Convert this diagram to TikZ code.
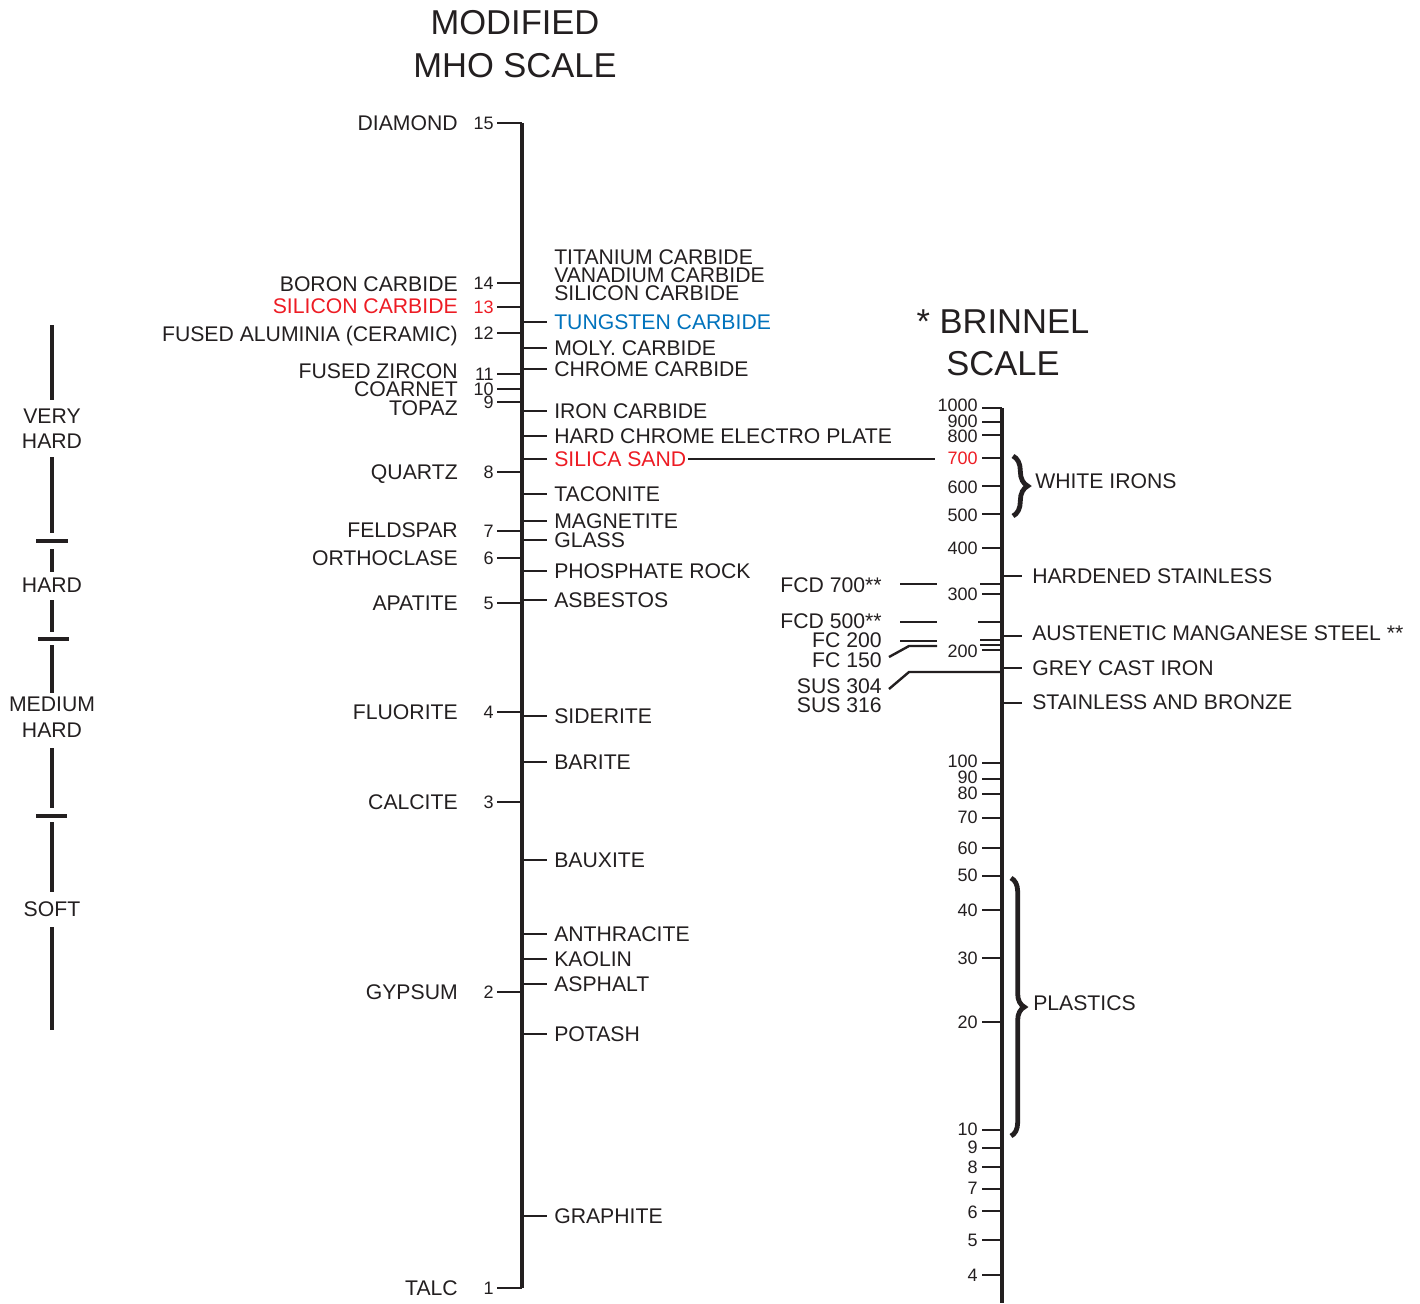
\documentclass[tikz,border=0pt]{standalone}
\usepackage{fontspec}
\setmainfont{Liberation Sans}
\usetikzlibrary{decorations.pathreplacing}
\definecolor{ink}{RGB}{35,31,32}
\definecolor{sred}{RGB}{237,28,36}
\definecolor{sblue}{RGB}{0,114,188}
\begin{document}
\begin{tikzpicture}[x=0.75pt,y=-0.75pt,
  lbl/.style={font=\fontsize{15.9}{18}\selectfont, inner sep=0pt, text height=11.4pt, text depth=0pt, text=ink},
  num/.style={font=\fontsize{13.5}{15}\selectfont, inner sep=0pt, text height=9.7pt, text depth=0pt, text=ink},
  ttl/.style={font=\fontsize{25.9}{28}\selectfont, inner sep=0pt, text height=18.6pt, text depth=0pt, text=ink},
  axis/.style={draw=ink, line width=2.3pt},
  tick/.style={draw=ink, line width=2.1pt},
  conn/.style={draw=ink, line width=1.8pt},
  bar/.style={draw=ink, line width=2.4pt},
  bigbrace/.style={draw=ink, line width=3.6pt, decorate, decoration={brace, amplitude=#1}}
]
\useasboundingbox (0,0) rectangle (1420,1303);

% ---------- titles ----------
\node[ttl] (t1) at (515,22) {MODIFIED};
\node[ttl] (t2) at (515,65) {MHO SCALE};
\node[ttl] (t3) at (1003,321) {* BRINNEL};
\node[ttl] (t4) at (1003,363) {SCALE};

% ---------- MHO axis ----------
\coordinate (mtop) at (522,123);
\coordinate (mbot) at (522,1288);
\draw[axis] (mtop) -- (mbot);

\foreach \y/\n/\c [count=\i] in {123/15/ink, 283/14/ink, 307/13/sred, 333/12/ink, 374/11/ink, 389/10/ink, 402/9/ink, 472/8/ink, 531/7/ink, 558/6/ink, 603/5/ink, 712/4/ink, 802/3/ink, 992/2/ink, 1288/1/ink}{
  \node[num, anchor=east, text=\c] (mn\i) at (494,\y) {\n};
  \draw[tick] (497,\y) -- (522,\y);
}

\foreach \y/\t/\c [count=\i] in {123/DIAMOND/ink, 284/BORON CARBIDE/ink, 306/SILICON CARBIDE/sred, 334/FUSED ALUMINIA (CERAMIC)/ink, 371/FUSED ZIRCON/ink, 389/COARNET/ink, 408/TOPAZ/ink, 472/QUARTZ/ink, 530/FELDSPAR/ink, 558/ORTHOCLASE/ink, 603/APATITE/ink, 712/FLUORITE/ink, 802/CALCITE/ink, 992/GYPSUM/ink, 1288/TALC/ink}{
  \node[lbl, anchor=east, text=\c] (ml\i) at (458,\y) {\t};
}

\foreach \y/\t/\c [count=\i] in {322/TUNGSTEN CARBIDE/sblue, 348/MOLY. CARBIDE/ink, 369/CHROME CARBIDE/ink, 411/IRON CARBIDE/ink, 436/HARD CHROME ELECTRO PLATE/ink, 459/SILICA SAND/sred, 494/TACONITE/ink, 521/MAGNETITE/ink, 540/GLASS/ink, 571/PHOSPHATE ROCK/ink, 600/ASBESTOS/ink, 716/SIDERITE/ink, 762/BARITE/ink, 860/BAUXITE/ink, 934/ANTHRACITE/ink, 959/KAOLIN/ink, 984/ASPHALT/ink, 1034/POTASH/ink, 1216/GRAPHITE/ink}{
  \node[lbl, anchor=west, text=\c] (mr\i) at (554,\y) {\t};
  \draw[tick] (522,\y) -- (547,\y);
}

\node[lbl, anchor=west] (tc1) at (554,257) {TITANIUM CARBIDE};
\node[lbl, anchor=west] (tc2) at (554,275) {VANADIUM CARBIDE};
\node[lbl, anchor=west] (tc3) at (554,293) {SILICON CARBIDE};

% ---------- Brinnel axis ----------
\coordinate (btop) at (1002,408);
\coordinate (bbot) at (1002,1303);
\draw[axis] (btop) -- (bbot);

\foreach \ly/\ty/\n/\c [count=\i] in {405/408/1000/ink, 421/422/900/ink, 436/435/800/ink, 458/458/700/sred, 487/486/600/ink, 515/514/500/ink, 548/548/400/ink, 594/594/300/ink, 651/650/200/ink, 761/763/100/ink, 777/779/90/ink, 793/794/80/ink, 817/818/70/ink, 848/848/60/ink, 875/876/50/ink, 910/910/40/ink, 958/958/30/ink, 1022/1022/20/ink, 1129/1130/10/ink, 1147/1148/9/ink, 1167/1167/8/ink, 1188/1189/7/ink, 1212/1211/6/ink, 1240/1240/5/ink, 1275/1275/4/ink}{
  \node[num, anchor=east, text=\c] (bn\i) at (978,\ly) {\n};
  \draw[tick] (982,\ty) -- (1002,\ty);
}
% unlabelled ticks
\foreach \y/\x in {584/980, 622/978, 640/980, 645/980}{
  \draw[tick] (\x,\y) -- (1002,\y);
}

% right side ticks and labels
\foreach \ty/\ly/\t [count=\i] in {576/576/HARDENED STAINLESS, 636/633/AUSTENETIC MANGANESE STEEL **, 668/668/GREY CAST IRON, 703/702/STAINLESS AND BRONZE}{
  \draw[tick] (1002,\ty) -- (1022,\ty);
  \node[lbl, anchor=west] (br\i) at (1032,\ly) {\t};
}

% FCD / FC / SUS group
\node[lbl, anchor=east] (f1) at (882,585) {FCD 700**};
\node[lbl, anchor=east] (f2) at (882,621) {FCD 500**};
\node[lbl, anchor=east] (f3) at (882,640) {FC 200};
\node[lbl, anchor=east] (f4) at (882,660) {FC 150};
\node[lbl, anchor=east] (f5) at (882,686) {SUS 304};
\node[lbl, anchor=east] (f6) at (882,705) {SUS 316};

\draw[conn] (900,584) -- (937,584);
\draw[conn] (900,622) -- (937,622);
\draw[conn] (900,641) -- (937,641);
\coordinate (fc150a) at (889,657);
\coordinate (fc150b) at (909,646);
\coordinate (fc150c) at (937,646);
\draw[conn] (fc150a) -- (fc150b) -- (fc150c);
\coordinate (sus304a) at (889,689);
\coordinate (sus304b) at (909,672);
\coordinate (sus304c) at (1002,672);
\draw[conn] (sus304a) -- (sus304b) -- (sus304c);

% silica sand connector
\coordinate (b700L) at (935,459);
\draw[conn] ([xshift=1.5pt]mr6.east) -- (b700L);

% braces
\draw[bigbrace=11pt] (1013,456) -- (1013,516);
\node[lbl, anchor=west] (wi) at (1035,481) {WHITE IRONS};
\draw[bigbrace=10pt] (1011,878) -- (1011,1136);
\node[lbl, anchor=west] (pl) at (1033,1003) {PLASTICS};

% ---------- left hardness bar ----------
\node[lbl] (vh1) at (52,416) {VERY};
\node[lbl] (vh2) at (52,441) {HARD};
\node[lbl] (hd) at (52,585) {HARD};
\node[lbl] (mh1) at (52,704) {MEDIUM};
\node[lbl] (mh2) at (52,730) {HARD};
\node[lbl] (sf) at (52,909) {SOFT};

\draw[bar] (52,325) -- (52,400);
\draw[bar] (52,457) -- (52,533);
\draw[bar] (36,541) -- (68,541);
\draw[bar] (52,549) -- (52,572);
\draw[bar] (52,600) -- (52,632);
\draw[bar] (38,639) -- (69,639);
\draw[bar] (52,645) -- (52,693);
\draw[bar] (52,748) -- (52,808);
\draw[bar] (36,816) -- (67,816);
\draw[bar] (52,822) -- (52,892);
\draw[bar] (52,927) -- (52,1030);
\end{tikzpicture}
\end{document}
